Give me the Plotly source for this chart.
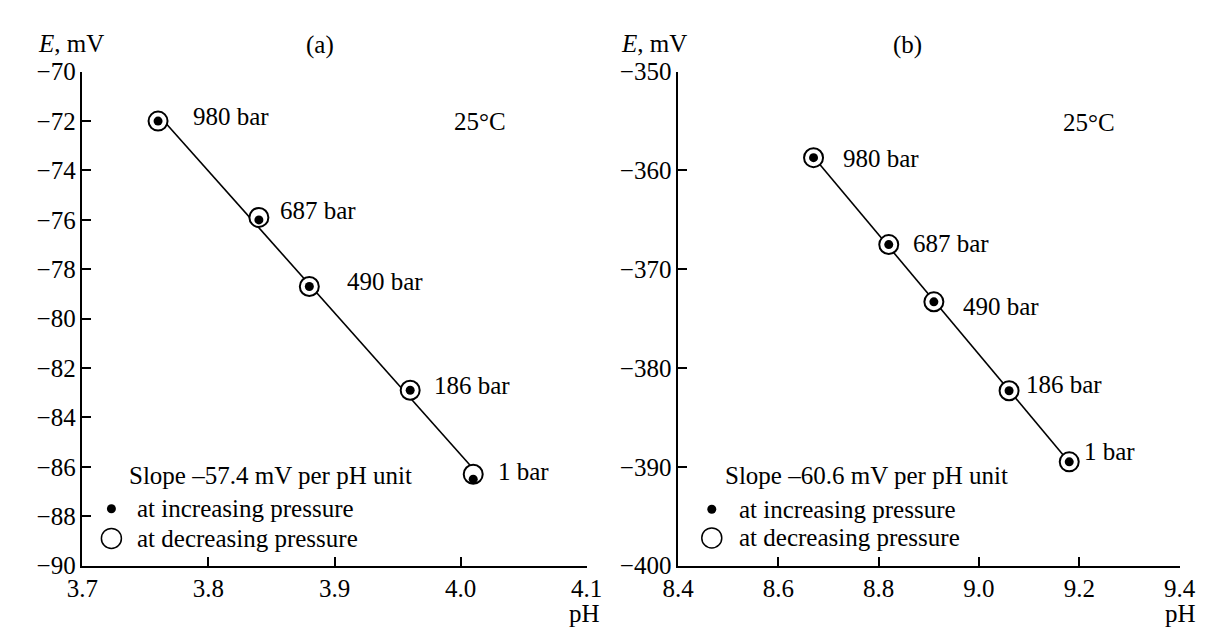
import numpy as np
import plotly.graph_objects as go

W, H = 1207, 629
FONT = "Liberation Serif"
FS = 25

# ---- data panel (a) ----
pressures = ["980 bar", "687 bar", "490 bar", "186 bar", "1 bar"]
ph_a = [3.76, 3.84, 3.88, 3.96, 4.01]
e_a_inc = [-72.0, -76.0, -78.7, -82.9, -86.5]
e_a_dec = [-72.0, -75.9, -78.7, -82.9, -86.3]
lbl_a_x = [3.786, 3.855, 3.908, 3.977, 4.028]
lbl_a_y = [-71.8, -75.6, -78.5, -82.7, -86.2]

# ---- data panel (b) ----
ph_b = [8.67, 8.82, 8.91, 9.06, 9.18]
e_b_inc = [-358.7, -367.5, -373.3, -382.3, -389.5]
e_b_dec = [-358.7, -367.5, -373.3, -382.3, -389.5]
lbl_b_x = [8.725, 8.865, 8.965, 9.09, 9.205]
lbl_b_y = [-358.8, -367.4, -373.8, -381.7, -388.4]

xticks_a = [3.7, 3.8, 3.9, 4.0, 4.1]
yticks_a = [-90, -88, -86, -84, -82, -80, -78, -76, -74, -72, -70]
xticks_b = [8.4, 8.6, 8.8, 9.0, 9.2, 9.4]
yticks_b = [-400, -390, -380, -370, -360, -350]

slope_a = "Slope \u201357.4 mV per pH unit"
slope_b = "Slope \u201360.6 mV per pH unit"

def px(x):
    return x / W

def py(y):
    return 1 - y / H

fig = go.Figure()

def add_panel(ph, e_inc, e_dec, xa, ya):
    avg = (np.array(e_inc) + np.array(e_dec)) / 2
    k, b = np.polyfit(ph, avg, 1)
    xs = np.array([min(ph), max(ph)])
    fig.add_trace(go.Scatter(x=xs, y=k * xs + b, mode="lines",
                             line=dict(color="black", width=1.6),
                             xaxis=xa, yaxis=ya, showlegend=False, hoverinfo="skip"))
    fig.add_trace(go.Scatter(x=ph, y=e_dec, mode="markers",
                             marker=dict(size=19, color="white", line=dict(color="black", width=2)),
                             xaxis=xa, yaxis=ya, showlegend=False))
    fig.add_trace(go.Scatter(x=ph, y=e_inc, mode="markers",
                             marker=dict(size=9, color="black"),
                             xaxis=xa, yaxis=ya, showlegend=False))

add_panel(ph_a, e_a_inc, e_a_dec, "x", "y")
add_panel(ph_b, e_b_inc, e_b_dec, "x2", "y2")

# legend symbols (drawn as markers)
leg_a_x = [3.723]
leg_b_x = [8.467]
fig.add_trace(go.Scatter(x=leg_a_x, y=[-87.7], mode="markers", marker=dict(size=9, color="black"),
                         xaxis="x", yaxis="y", showlegend=False, cliponaxis=False))
fig.add_trace(go.Scatter(x=leg_a_x, y=[-88.9], mode="markers",
                         marker=dict(size=20, color="white", line=dict(color="black", width=1.5)),
                         xaxis="x", yaxis="y", showlegend=False, cliponaxis=False))
fig.add_trace(go.Scatter(x=leg_b_x, y=[-394.3], mode="markers", marker=dict(size=9, color="black"),
                         xaxis="x2", yaxis="y2", showlegend=False, cliponaxis=False))
fig.add_trace(go.Scatter(x=leg_b_x, y=[-397.2], mode="markers",
                         marker=dict(size=20, color="white", line=dict(color="black", width=1.5)),
                         xaxis="x2", yaxis="y2", showlegend=False, cliponaxis=False))

ann = []
def txt(x, y, s, xref, yref, xanchor="left", yanchor="middle"):
    ann.append(dict(x=x, y=y, text=s, xref=xref, yref=yref, showarrow=False,
                    xanchor=xanchor, yanchor=yanchor, font=dict(family=FONT, size=FS, color="black")))

for p, x, y in zip(pressures, lbl_a_x, lbl_a_y):
    txt(x, y, p, "x", "y")
for p, x, y in zip(pressures, lbl_b_x, lbl_b_y):
    txt(x, y, p, "x2", "y2")

txt(4.015, -72.0, "25\u00b0C", "x", "y", xanchor="center")
txt(9.22, -355.1, "25\u00b0C", "x2", "y2", xanchor="center")
txt(3.735, -86.35, slope_a, "x", "y")
txt(8.489, -390.9, slope_b, "x2", "y2")
txt(3.742, -87.7, "at increasing pressure", "x", "y")
txt(3.742, -88.9, "at decreasing pressure", "x", "y")
txt(8.517, -394.3, "at increasing pressure", "x2", "y2")
txt(8.517, -397.2, "at decreasing pressure", "x2", "y2")

txt(px(304), py(25), "(a)", "paper", "paper", xanchor="center")
txt(px(908), py(25), "(b)", "paper", "paper", xanchor="center")
txt(px(12), py(23), "<i>E</i>, mV", "paper", "paper")
txt(px(611), py(23), "<i>E</i>, mV", "paper", "paper")
txt(px(594), py(619), "pH", "paper", "paper", xanchor="right")
txt(px(1206), py(619), "pH", "paper", "paper", xanchor="right")

axis_common = dict(showline=True, linecolor="black", linewidth=1.5, ticks="inside", ticklen=9,
                   tickwidth=1.5, tickcolor="black", showgrid=False, zeroline=False,
                   tickfont=dict(family=FONT, size=FS, color="black"), mirror=False)

ydom = [py(569), py(53)]
fig.update_layout(
    width=W, height=H, margin=dict(l=0, r=0, t=0, b=0),
    paper_bgcolor="white", plot_bgcolor="white", showlegend=False,
    annotations=ann,
    xaxis=dict(domain=[px(60), px(578)], range=[3.7, 4.1], tickvals=xticks_a,
               tickformat=".1f", anchor="y", **axis_common),
    yaxis=dict(domain=ydom, range=[-90, -70], tickvals=yticks_a, anchor="x", **axis_common),
    xaxis2=dict(domain=[px(672), px(1187)], range=[8.4, 9.4], tickvals=xticks_b,
                tickformat=".1f", anchor="y2", **axis_common),
    yaxis2=dict(domain=ydom, range=[-400, -350], tickvals=yticks_b, anchor="x2", **axis_common),
)

fig.write_html("out.html")
